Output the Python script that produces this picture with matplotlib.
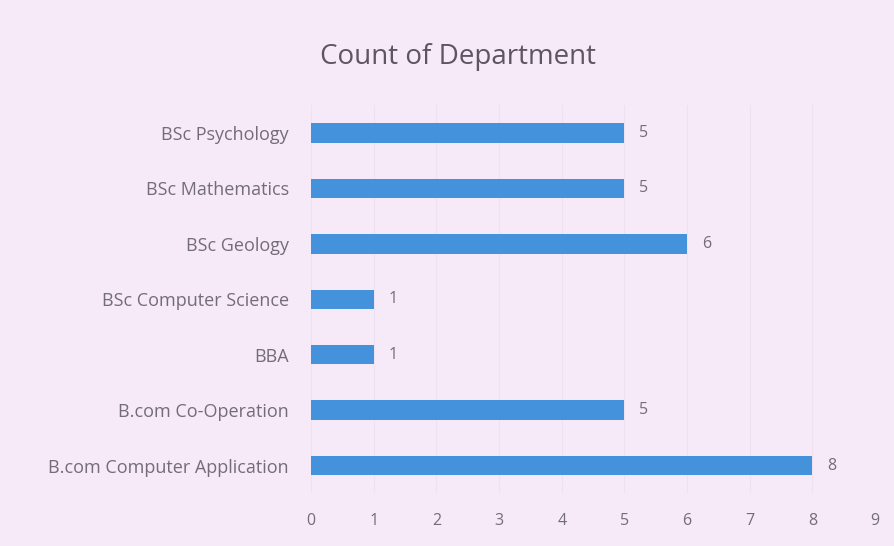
#!/usr/bin/env python3
"""
Count of Department - horizontal bar chart
"""

import matplotlib.pyplot as plt

departments = ['B.com Computer Application', 'B.com Co-Operation', 'BBA',
               'BSc Computer Science', 'BSc Geology', 'BSc Mathematics',
               'BSc Psychology']
counts = [8, 5, 1, 1, 6, 5, 5]
x_ticks = list(range(0, 10))

BG = '#f6eaf8'
BAR = '#4592dc'
TXT = '#736d78'

plt.rcParams['font.family'] = ['Open Sans', 'DejaVu Sans']

fig = plt.figure(figsize=(8.95, 5.46), dpi=100, facecolor=BG)
ax = fig.add_axes([0.3475, 0.0967, 0.6302, 0.7103])
ax.set_facecolor(BG)

bars = ax.barh(departments, counts, height=0.35, color=BAR)
for bar, c in zip(bars, counts):
    ax.text(bar.get_width() + 0.24, bar.get_y() + bar.get_height() / 2, str(c),
            va='center', ha='left', fontsize=11.5, color=TXT)

ax.set_xlim(0, 9)
ax.set_ylim(-0.5, len(departments) - 0.5)
ax.set_xticks(x_ticks)
ax.grid(True, axis='x', color='#eee2f0', linewidth=0.8)
ax.set_axisbelow(True)
for s in ax.spines.values():
    s.set_visible(False)
ax.tick_params(length=0, labelcolor=TXT)
ax.tick_params(axis='x', pad=14, labelsize=11.5)
ax.tick_params(axis='y', pad=16, labelsize=13)

fig.text(0.512, 0.895, 'Count of Department', ha='center', va='center',
         fontsize=20, color='#5c5660')

fig.savefig('out.png', dpi=100, facecolor=BG)
